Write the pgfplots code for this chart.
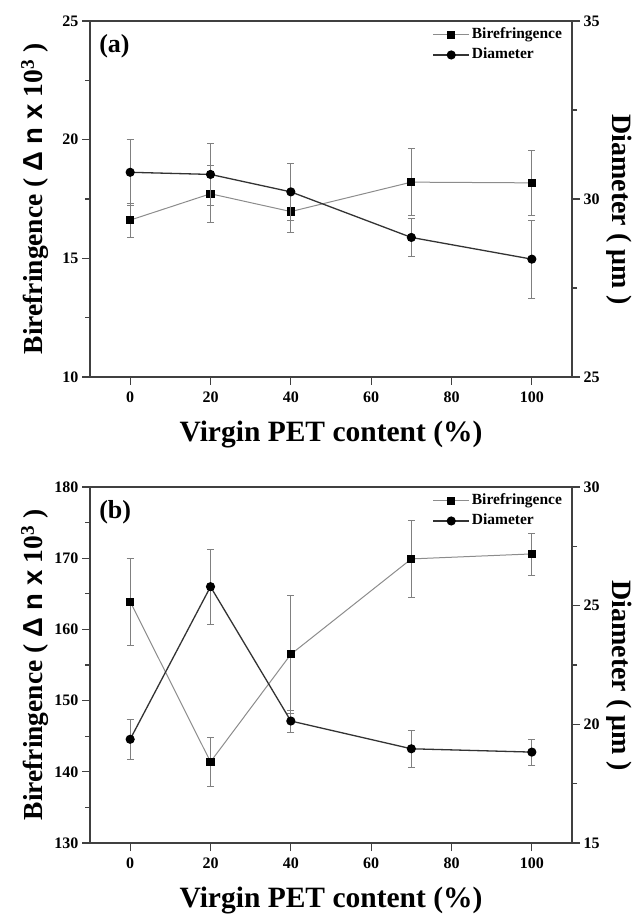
\documentclass[border=0pt]{standalone}
\usepackage{fontspec}
\setmainfont{Liberation Serif}
\setsansfont{Liberation Sans}
\usepackage{pgfplots}
\pgfplotsset{compat=1.18}
\begin{document}
\begin{tikzpicture}
\useasboundingbox (0,0) rectangle (639pt,915pt);
\pgfplotsset{
  base/.style={
    scale only axis, width=482pt, height=356pt,
    xmin=-10, xmax=110, xtick={0,20,40,60,80,100},
    tick align=outside,
    major tick length=8pt, minor tick length=5pt,
    axis line style={black!75, line width=1.3pt},
    tick style={black!75, line width=1.1pt},
    /pgf/number format/assume math mode=true,
    ticklabel style={font=\bfseries\fontsize{16}{16}\selectfont},
    xticklabel style={yshift=-3pt},
    minor y tick num=1,
  },
  leftax/.style={base, xtick pos=left, ytick pos=left,
    every axis y label/.style={at={(axis description cs:-0.114,0.5)}, rotate=90, anchor=center,
      font=\bfseries\fontsize{27.5}{27.5}\selectfont},
    every axis x label/.style={at={(axis description cs:0.5,0)}, yshift=-58pt, anchor=center,
      font=\bfseries\fontsize{29.5}{29.5}\selectfont},
    ylabel={Birefringence ( {\sffamily\bfseries Δ n x} 10\textsuperscript{3} )},
    xlabel={Virgin PET content (\%)},
  },
  rightax/.style={base, axis x line=none, axis y line*=right,
    every axis y label/.style={at={(axis description cs:1.098,0.47)}, rotate=-90, anchor=center,
      font=\bfseries\fontsize{28}{28}\selectfont},
    ylabel={Diameter ( μm )},
    legend style={draw=none, fill=none, at={(axis description cs:0.99,0.995)}, anchor=north east,
      font=\bfseries\fontsize{15.5}{15.5}\selectfont, row sep=0pt,
      nodes={inner xsep=2pt, inner ysep=3.5pt, text height=10pt, text depth=3pt}},
    legend cell align=left,
    legend image code/.code={\draw[mark repeat=2,mark phase=2,##1] plot coordinates {(0pt,0pt) (18pt,0pt) (36pt,0pt)};},
  },
  bire/.style={color=black!45, line width=1pt, mark=square*, mark size=3.6pt,
    mark options={fill=black, draw=black, solid}},
  diam/.style={color=black!80, line width=1.3pt, mark=*, mark size=3.9pt,
    mark options={fill=black, draw=black, solid}},
  eb/.style={error bars/.cd, y dir=both, y explicit,
    error bar style={black!50, line width=0.75pt},
    error mark options={rotate=90, mark size=3.5pt, black!50, line width=0.75pt}},
}
% ---------- panel (a) ----------
\begin{axis}[leftax, at={(90pt,538pt)}, anchor=south west,
  ymin=10, ymax=25, ytick={10,15,20,25}]
\addplot[bire, eb] table[x=x, y=y, y error=e] {
x y e
0 16.61 0.72
20 17.72 1.19
40 16.97 0.87
70 18.21 1.42
100 18.18 1.37
};
\node[anchor=west, font=\bfseries\fontsize{26}{26}\selectfont] at (rel axis cs:0.012,0.93) {(a)};
\end{axis}
\begin{axis}[rightax, at={(90pt,538pt)}, anchor=south west,
  ymin=25, ymax=35, ytick={25,30,35}]
\addlegendimage{bire}
\addlegendentry{Birefringence}
\addplot[diam, eb] table[x=x, y=y, y error=e] {
x y e
0 30.75 0.93
20 30.69 0.87
40 30.20 0.81
70 28.92 0.54
100 28.31 1.10
};
\addlegendentry{Diameter}
\end{axis}
% ---------- panel (b) ----------
\begin{axis}[leftax, at={(90pt,72pt)}, anchor=south west,
  ymin=130, ymax=180, ytick={130,140,150,160,170,180}]
\addplot[bire, eb] table[x=x, y=y, y error=e] {
x y e
0 163.9 6.1
20 141.4 3.5
40 156.5 8.25
70 169.9 5.4
100 170.6 2.95
};
\node[anchor=west, font=\bfseries\fontsize{26}{26}\selectfont] at (rel axis cs:0.012,0.93) {(b)};
\end{axis}
\begin{axis}[rightax, at={(90pt,72pt)}, anchor=south west,
  ymin=15, ymax=30, ytick={15,20,25,30}]
\addlegendimage{bire}
\addlegendentry{Birefringence}
\addplot[diam, eb] table[x=x, y=y, y error=e] {
x y e
0 19.37 0.84
20 25.80 1.57
40 20.14 0.46
70 18.97 0.79
100 18.83 0.54
};
\addlegendentry{Diameter}
\end{axis}
\end{tikzpicture}
\end{document}
